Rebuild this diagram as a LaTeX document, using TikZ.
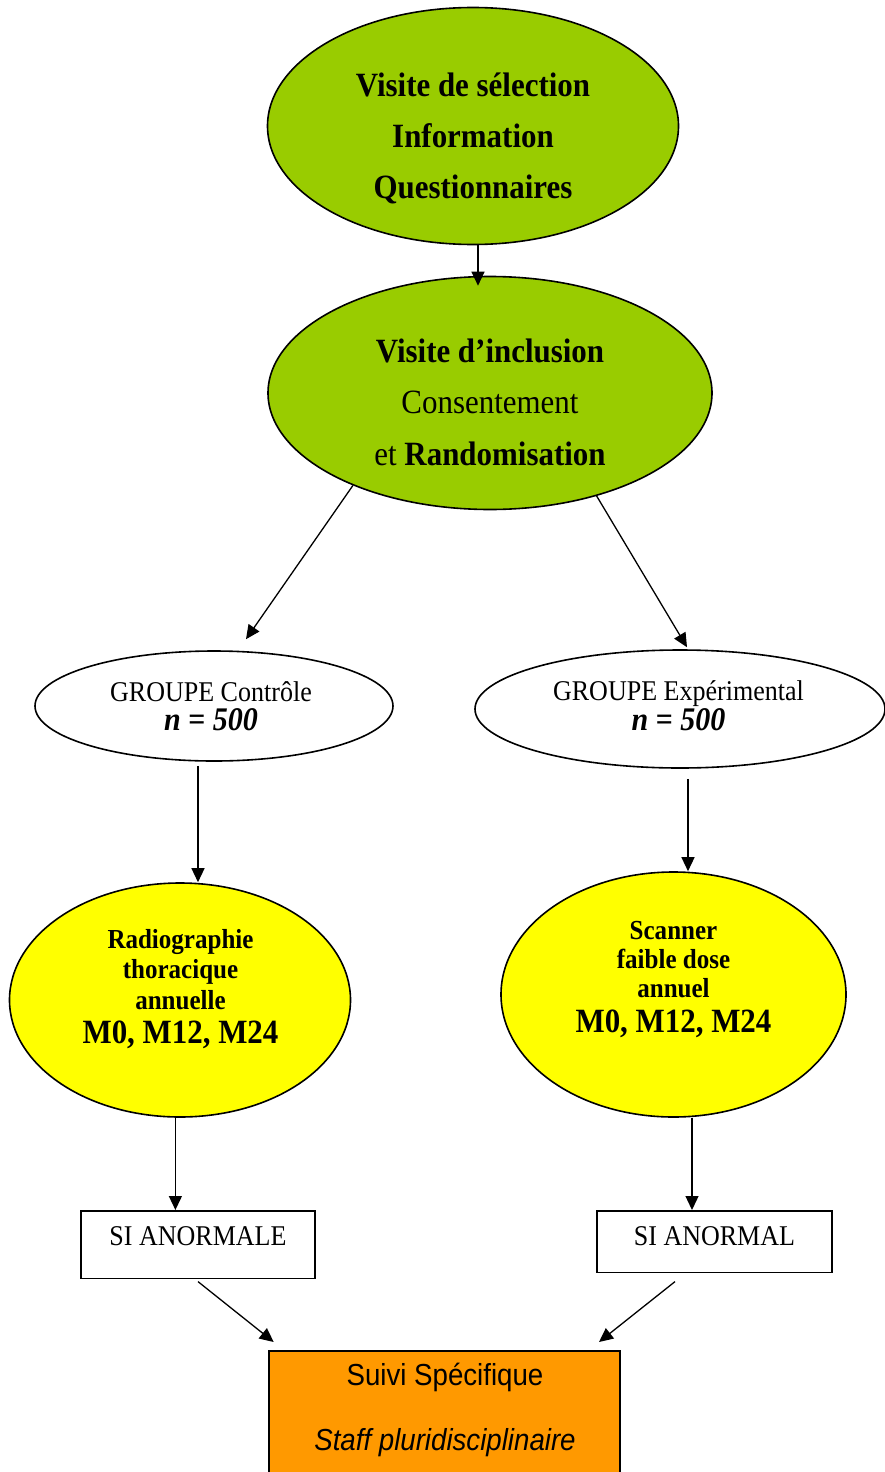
\documentclass[tikz,border=0pt]{standalone}
\usepackage{fontspec}
\setmainfont{Liberation Serif}[FakeStretch=0.91]
\setsansfont{Liberation Sans}[FakeStretch=0.91]
\usepackage{xcolor}
\usepackage{tikz}
\usetikzlibrary{shapes.geometric,arrows.meta}
\definecolor{vertvisite}{HTML}{99CC00}
\definecolor{jaunebras}{HTML}{FFFF00}
\definecolor{orangesuivi}{HTML}{FF9900}

\begin{document}
\begin{tikzpicture}[x=1pt,y=-1pt,
    ell/.style={ellipse,draw,line width=1.6pt,inner sep=0pt},
    boite/.style={rectangle,draw,line width=1.6pt,inner sep=0pt},
    fleche/.style={line width=1.3pt,-{Triangle[length=14pt,width=13pt]}}]
    \useasboundingbox (0,0) rectangle (885,1472);

    \node[ell,fill=vertvisite,minimum width=411pt,minimum height=237pt] (sel) at (473,126) {};
    \node[align=center,font=\bfseries\fontsize{34}{51}\selectfont] (selt) at (473,138.5) {Visite de sélection\\Information\\Questionnaires};

    \node[ell,fill=vertvisite,minimum width=444pt,minimum height=233pt] (incl) at (490,393) {};
    \node[align=center,font=\fontsize{34}{51.5}\selectfont] (inclt) at (490,402) {\textbf{Visite d’inclusion}\\Consentement\\et \textbf{Randomisation}};

    \node[ell,fill=white,minimum width=358pt,minimum height=110pt] (ctrl) at (214,706) {};
    \node[align=center,font=\fontsize{28.6}{29.5}\selectfont] (ctrlt) at (211,706) {GROUPE Contrôle\\{\bfseries\itshape\fontsize{33}{29.5}\selectfont n = 500}};

    \node[ell,fill=white,minimum width=410pt,minimum height=118pt] (expe) at (680,709) {};
    \node[align=center,font=\fontsize{28.6}{29.5}\selectfont] (expet) at (678.5,705.5) {GROUPE Expérimental\\{\bfseries\itshape\fontsize{33}{29.5}\selectfont n = 500}};

    \node[ell,fill=jaunebras,minimum width=341pt,minimum height=234pt] (radio) at (180,1000) {};
    \node[align=center,font=\bfseries\fontsize{27.5}{30.5}\selectfont] (radiot) at (180.5,988.6) {Radiographie\\thoracique\\annuelle\\[3.5pt]{\fontsize{34}{30.5}\selectfont M0, M12, M24}};

    \node[ell,fill=jaunebras,minimum width=345pt,minimum height=245pt] (scan) at (673.5,994.5) {};
    \node[align=center,font=\bfseries\fontsize{27.5}{29}\selectfont] (scant) at (673.5,979.6) {Scanner\\faible dose\\annuel\\[6pt]{\fontsize{34}{29}\selectfont M0, M12, M24}};

    \node[boite,anchor=north,minimum width=234pt,text height=35pt,text depth=32.5pt,font=\fontsize{28.6}{30}\selectfont] (anorm1) at (198,1210) {SI ANORMALE};
    \node[boite,anchor=north,minimum width=235pt,text height=35pt,text depth=26.7pt,font=\fontsize{28.6}{30}\selectfont] (anorm2) at (714.5,1210) {SI ANORMAL};

    \node[boite,fill=orangesuivi,anchor=north,minimum width=351pt,minimum height=160pt] (suivi) at (444.7,1350) {};
    \node[align=center,font=\sffamily\fontsize{30.4}{65}\selectfont] (suivit) at (445,1409.8) {Suivi Spécifique\\\textit{Staff pluridisciplinaire}};

    \draw[fleche] ([xshift=5pt]sel.south) -- ([xshift=-12pt,yshift=-10pt]incl.north);
    \draw[fleche] (incl.214) -- ([xshift=32pt,yshift=11pt]ctrl.north);
    \draw[fleche] (incl.316) -- ([xshift=7pt,yshift=2pt]expe.north);
    \draw[fleche] ([xshift=-16pt,yshift=-4pt]ctrl.south) -- ([xshift=18pt]radio.north);
    \draw[fleche] ([xshift=8pt,yshift=-10pt]expe.south) -- ([xshift=14.5pt]scan.north);
    \draw[fleche] ([xshift=-4.6pt]radio.south) -- ([xshift=-22.6pt]anorm1.north);
    \draw[fleche] ([xshift=18.5pt]scan.south) -- ([xshift=-22.5pt]anorm2.north);
    \draw[fleche] ([yshift=-2.5pt]anorm1.south) -- ([xshift=5.3pt,yshift=8pt]suivi.north west);
    \draw[fleche] ([xshift=-39.5pt,yshift=-8.3pt]anorm2.south) -- ([xshift=-22pt,yshift=8pt]suivi.north east);
\end{tikzpicture}
\end{document}
